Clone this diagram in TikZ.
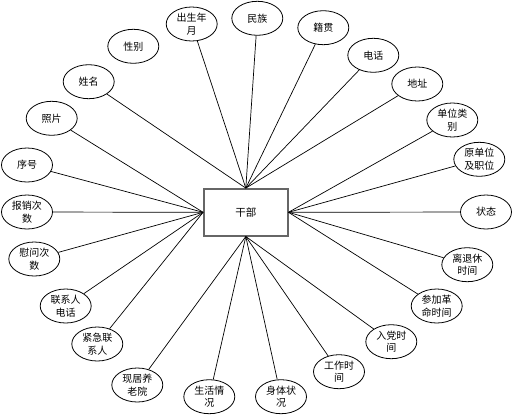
\documentclass[tikz,border=0pt]{standalone}
\usepackage{fontspec}
\newfontfamily\cjk{Noto Sans CJK SC}
\usetikzlibrary{shapes.geometric}
\begin{document}
\begin{tikzpicture}[x=1pt,y=-1pt,
  attr/.style={draw=black,line width=0.8pt,ellipse,minimum width=51pt,minimum height=34pt,inner sep=0pt,align=center,font=\cjk\fontsize{10}{12.5}\selectfont},
  ent/.style={draw=black!60,line width=1.4pt,rectangle,minimum width=84pt,minimum height=47pt,inner sep=0pt,font=\cjk\fontsize{10.5}{12.5}\selectfont},
  link/.style={draw=black,line width=0.7pt}]
\useasboundingbox (0,0) rectangle (513,415);
\fill[white] (0,0) rectangle (513,415);
\node[ent] (gb) at (245.8,212.3) {干部};
% top
\node[attr] (csny) at (191.7,24) {出生年\\月};
\node[attr] (mz) at (257.3,18.3) {民族};
\node[attr] (jg) at (323.3,27.7) {籍贯};
\node[attr] (dh) at (373.3,55.3) {电话};
\node[attr] (dz) at (417.3,84) {地址};
\node[attr] (xm) at (88.7,81.7) {姓名};
\node[attr] (xb) at (133.3,46.3) {性别};
% right
\node[attr] (dwlb) at (452.3,120) {单位类\\别};
\node[attr] (ydw) at (479.3,159.3) {原单位\\及职位};
\node[attr] (zt) at (486,212) {状态};
\node[attr] (ltx) at (467.3,264.7) {离退休\\时间};
\node[attr] (cjgm) at (436.7,306) {参加革\\命时间};
% bottom
\node[attr] (rd) at (391.3,341.7) {入党时\\间};
\node[attr] (gz) at (339,371.7) {工作时\\间};
\node[attr] (st) at (281,396.7) {身体状\\况};
\node[attr] (sh) at (209.3,396.7) {生活情\\况};
\node[attr] (yly) at (137.3,385) {现居养\\老院};
% left
\node[attr] (jj) at (97.3,344) {紧急联\\系人};
\node[attr] (lxr) at (65.7,306) {联系人\\电话};
\node[attr] (ww) at (34.3,259) {慰问次\\数};
\node[attr] (bx) at (27,212) {报销次\\数};
\node[attr] (xh) at (27,165) {序号};
\node[attr] (zp) at (51.7,118.3) {照片};
% connectors
\foreach \n in {xm,csny,mz,jg,dh,dz} \draw[link] (gb.north) -- (\n);
\foreach \n in {zp,xh,bx,ww,lxr,jj} \draw[link] (gb.west) -- (\n);
\foreach \n in {dwlb,ydw,zt,ltx,cjgm} \draw[link] (gb.east) -- (\n);
\foreach \n in {yly,sh,st,gz,rd} \draw[link] (gb.south) -- (\n);
\end{tikzpicture}
\end{document}
